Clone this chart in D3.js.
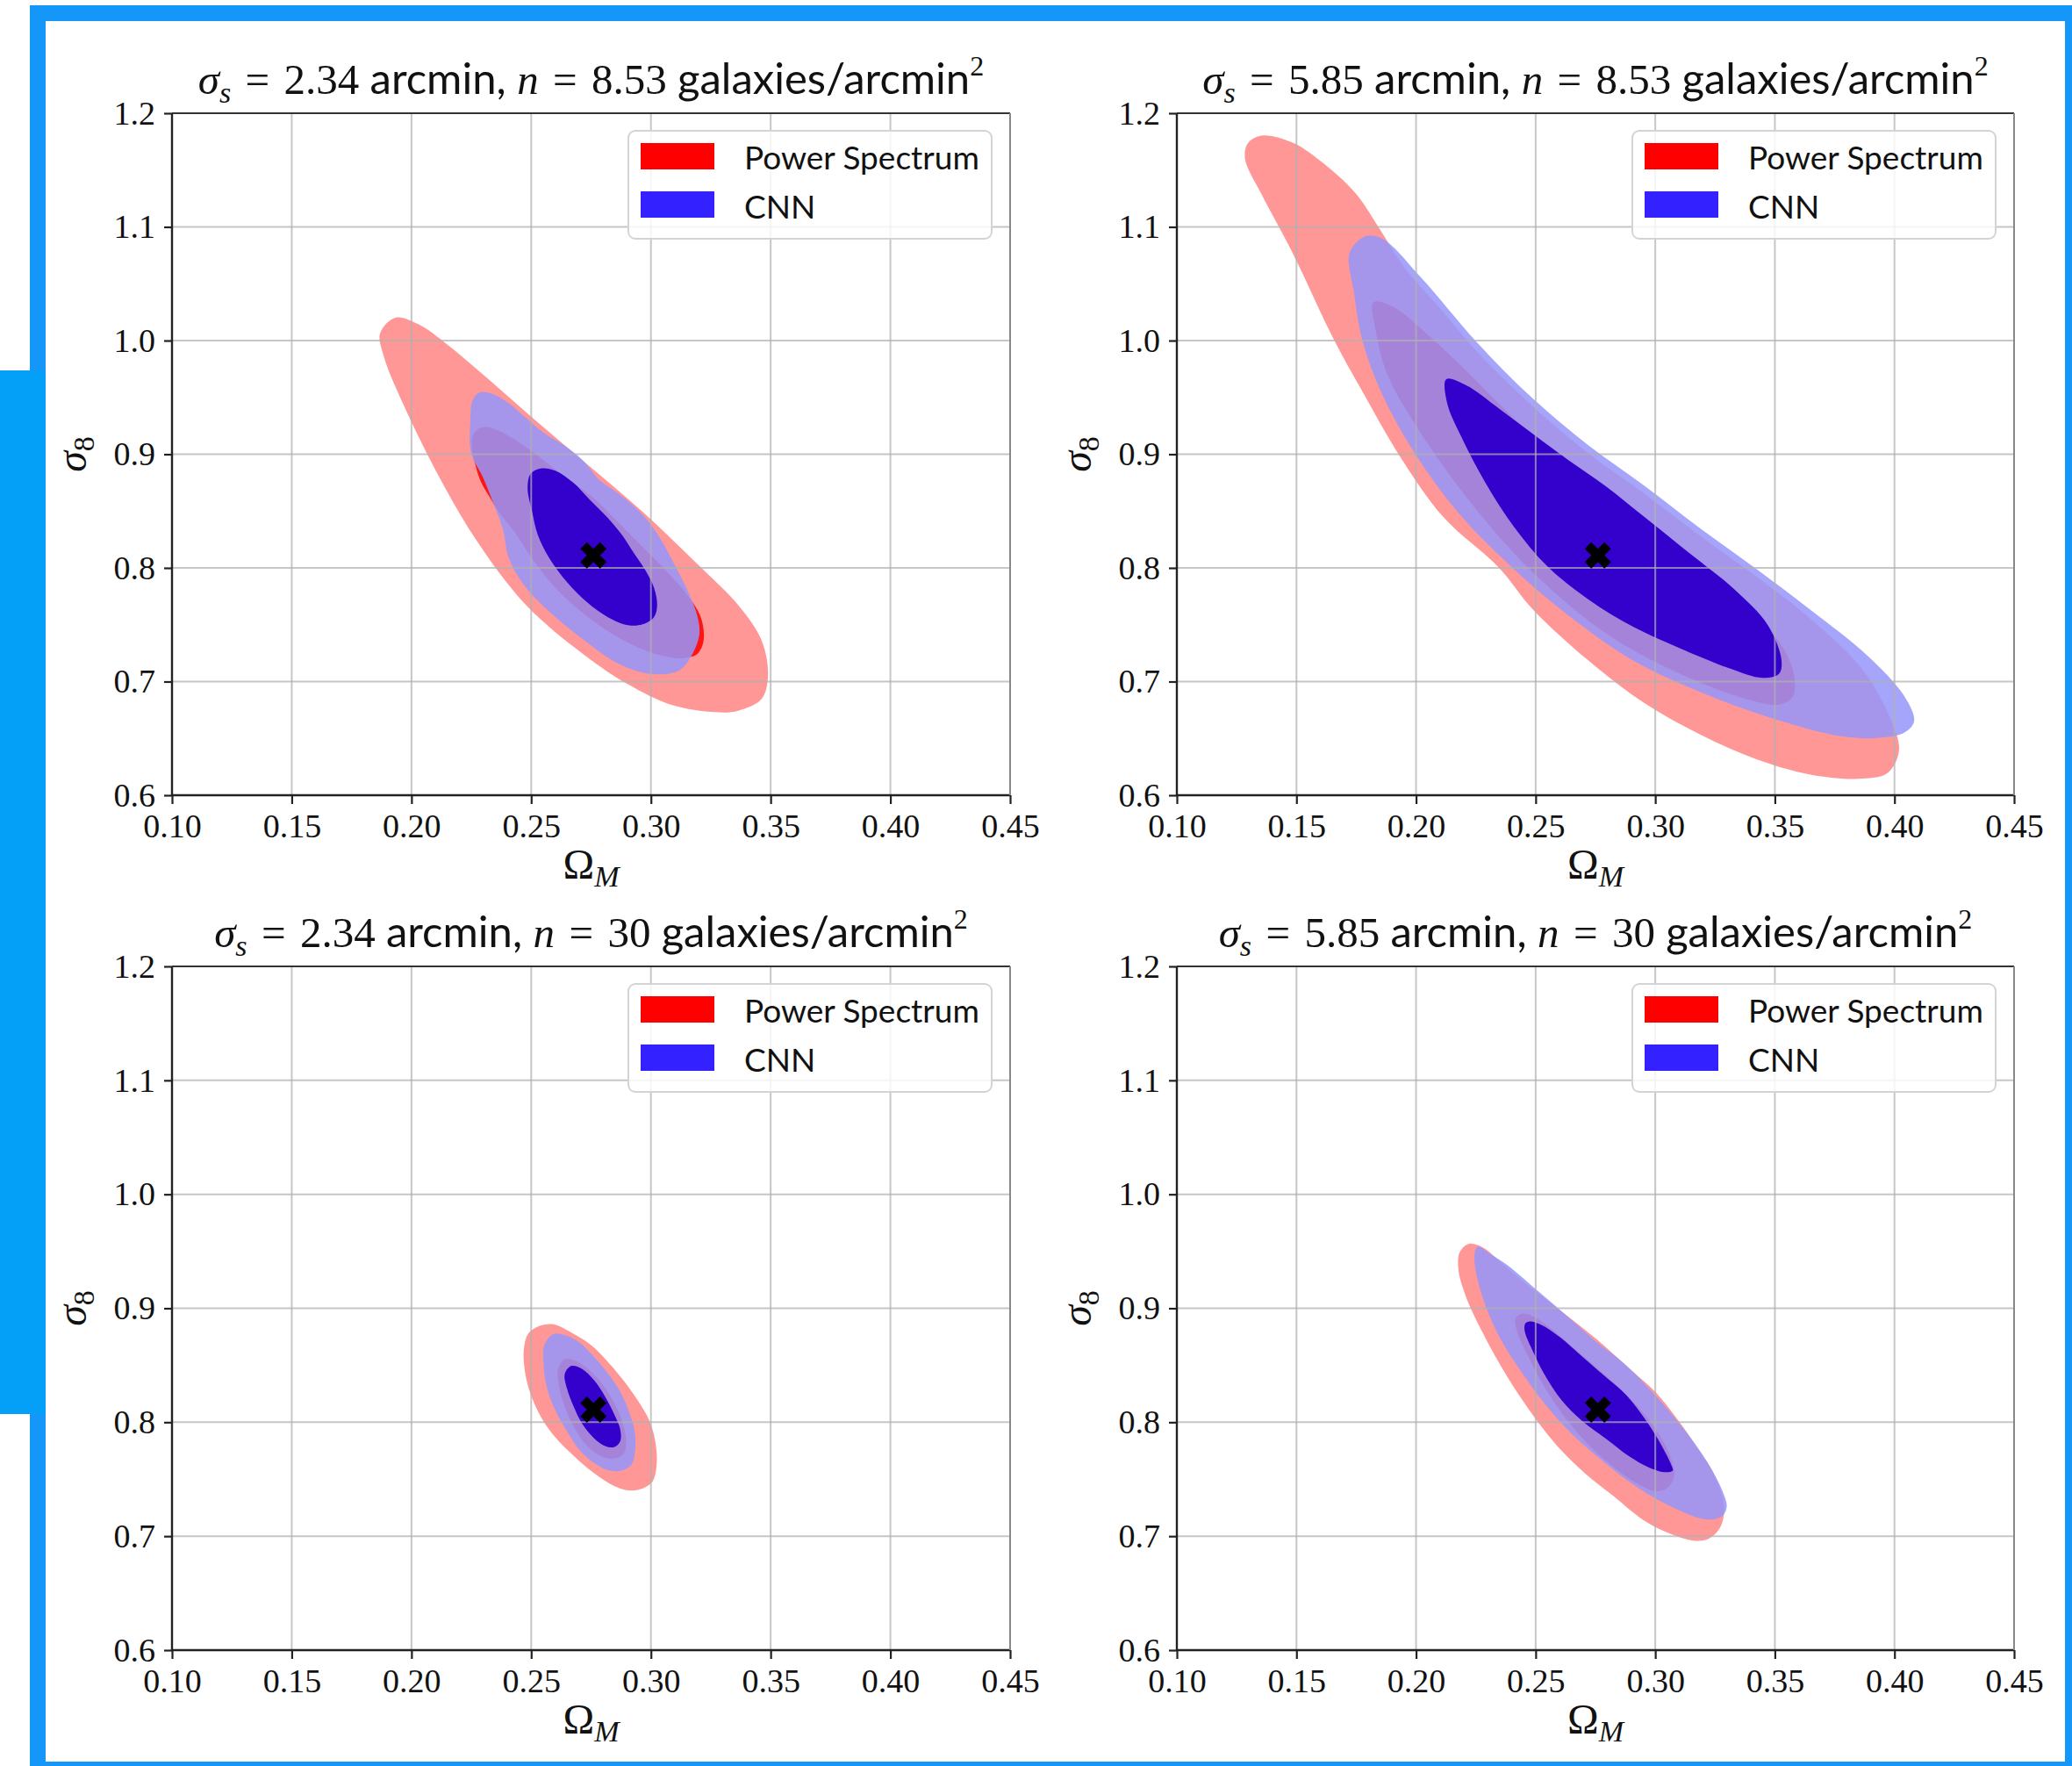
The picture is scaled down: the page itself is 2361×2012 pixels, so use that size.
<!DOCTYPE html>
<html>
<head>
<meta charset="utf-8">
<script src="https://cdn.jsdelivr.net/npm/d3@7"></script>
<style>
  html, body { margin: 0; padding: 0; background: #fff; }
  svg { display: block; }
</style>
</head>
<body>
<script>
// ---- axis ticks and panel text ----
const omegaTicks = [0.10, 0.15, 0.20, 0.25, 0.30, 0.35, 0.40, 0.45];
const sigmaTicks = [0.6, 0.7, 0.8, 0.9, 1.0, 1.1, 1.2];
const panelSmoothing = ["2.34", "5.85", "2.34", "5.85"];
const panelDensity = ["8.53", "8.53", "30", "30"];
const legendLabels = ["Power Spectrum", "CNN"];
const fiducial = [0.276, 0.811];

// ---- confidence contours, [Omega_M, sigma_8] boundary points ----
// panel A: sigma_s = 2.34, n = 8.53
const psOuterA = [[0.1933,1.0201],[0.2030,1.0142],[0.2152,0.9961],[0.2297,0.9704],[0.2479,0.9369],[0.2722,0.8932],[0.2965,0.8494],[0.3208,0.8005],[0.3365,0.7671],[0.3462,0.7362],[0.3489,0.7053],[0.3462,0.6847],[0.3365,0.6744],[0.3268,0.6731],[0.3086,0.6795],[0.2904,0.6976],[0.2722,0.7233],[0.2479,0.7671],[0.2273,0.8237],[0.2115,0.8803],[0.1970,0.9421],[0.1885,0.9858],[0.1869,1.0064]];
const psInnerA = [[0.2310,0.9241],[0.2382,0.9189],[0.2479,0.9061],[0.2577,0.8906],[0.2674,0.8752],[0.2771,0.8597],[0.2868,0.8391],[0.2965,0.8185],[0.3062,0.7979],[0.3147,0.7774],[0.3208,0.7568],[0.3220,0.7362],[0.3195,0.7246],[0.3135,0.7207],[0.3062,0.7220],[0.2965,0.7284],[0.2843,0.7413],[0.2722,0.7593],[0.2601,0.7825],[0.2504,0.8082],[0.2431,0.8314],[0.2364,0.8494],[0.2334,0.8597],[0.2291,0.8752],[0.2267,0.8906],[0.2252,0.9061],[0.2261,0.9189]];
const cnnOuterA = [[0.2285,0.9544],[0.2346,0.9524],[0.2407,0.9447],[0.2479,0.9318],[0.2552,0.9189],[0.2649,0.9061],[0.2722,0.8932],[0.2783,0.8777],[0.2868,0.8649],[0.2965,0.8469],[0.3038,0.8263],[0.3098,0.8031],[0.3159,0.7774],[0.3195,0.7568],[0.3202,0.7413],[0.3171,0.7233],[0.3123,0.7104],[0.3062,0.7066],[0.2965,0.7079],[0.2843,0.7182],[0.2722,0.7362],[0.2601,0.7568],[0.2479,0.7825],[0.2407,0.8082],[0.2382,0.8340],[0.2346,0.8546],[0.2297,0.8803],[0.2249,0.9009],[0.2246,0.9292],[0.2255,0.9472]];
const cnnInnerA = [[0.2540,0.8875],[0.2601,0.8855],[0.2674,0.8752],[0.2746,0.8597],[0.2819,0.8443],[0.2880,0.8288],[0.2928,0.8134],[0.2977,0.7979],[0.3013,0.7825],[0.3026,0.7671],[0.3013,0.7568],[0.2965,0.7503],[0.2904,0.7496],[0.2819,0.7568],[0.2734,0.7696],[0.2649,0.7877],[0.2577,0.8082],[0.2528,0.8288],[0.2504,0.8494],[0.2485,0.8700],[0.2498,0.8829]];

// panel B: sigma_s = 5.85, n = 8.53
const psOuterB = [[0.1355,1.1804],[0.1484,1.1741],[0.1624,1.1540],[0.1752,1.1284],[0.1846,1.0988],[0.1951,1.0645],[0.2091,1.0306],[0.2255,0.9904],[0.2488,0.9423],[0.2722,0.9005],[0.2956,0.8650],[0.3189,0.8279],[0.3423,0.7924],[0.3657,0.7538],[0.3867,0.7104],[0.3984,0.6670],[0.4019,0.6394],[0.3972,0.6197],[0.3867,0.6146],[0.3657,0.6178],[0.3423,0.6316],[0.3189,0.6532],[0.2956,0.6808],[0.2722,0.7183],[0.2488,0.7636],[0.2348,0.7999],[0.2115,0.8445],[0.1928,0.8997],[0.1787,0.9510],[0.1659,0.9998],[0.1484,1.0771],[0.1355,1.1284],[0.1285,1.1599],[0.1297,1.1737]];
const psInnerB = [[0.1822,1.0338],[0.1904,1.0298],[0.2044,1.0062],[0.2185,0.9786],[0.2372,0.9391],[0.2605,0.8918],[0.2839,0.8524],[0.3072,0.8169],[0.3306,0.7774],[0.3493,0.7420],[0.3575,0.7104],[0.3575,0.6868],[0.3516,0.6797],[0.3376,0.6850],[0.3189,0.6990],[0.2956,0.7220],[0.2769,0.7460],[0.2570,0.7800],[0.2400,0.8150],[0.2200,0.8650],[0.2000,0.9250],[0.1880,0.9700],[0.1830,1.0101]];
const cnnOuterB = [[0.1787,1.0917],[0.1858,1.0898],[0.2021,1.0554],[0.2255,0.9983],[0.2488,0.9490],[0.2722,0.9076],[0.2956,0.8721],[0.3189,0.8346],[0.3423,0.7991],[0.3657,0.7617],[0.3890,0.7222],[0.4042,0.6868],[0.4082,0.6651],[0.4042,0.6552],[0.3937,0.6505],[0.3773,0.6521],[0.3470,0.6690],[0.3189,0.6907],[0.2909,0.7183],[0.2652,0.7558],[0.2418,0.7972],[0.2185,0.8465],[0.1998,0.8997],[0.1858,0.9529],[0.1776,0.9998],[0.1741,1.0416],[0.1722,1.0771]];
const cnnInnerB = [[0.2126,0.9659],[0.2208,0.9608],[0.2348,0.9400],[0.2488,0.9180],[0.2629,0.8960],[0.2792,0.8721],[0.2956,0.8445],[0.3143,0.8129],[0.3329,0.7814],[0.3470,0.7498],[0.3528,0.7183],[0.3516,0.7065],[0.3446,0.7033],[0.3306,0.7120],[0.3096,0.7300],[0.2909,0.7480],[0.2722,0.7720],[0.2551,0.8010],[0.2410,0.8360],[0.2290,0.8750],[0.2190,0.9150],[0.2130,0.9450]];

// panel C: sigma_s = 2.34, n = 30
const psOuterC = [[0.2531,0.8842],[0.2592,0.8860],[0.2665,0.8791],[0.2750,0.8676],[0.2823,0.8523],[0.2884,0.8370],[0.2945,0.8191],[0.2994,0.8013],[0.3018,0.7834],[0.3024,0.7630],[0.3006,0.7477],[0.2957,0.7413],[0.2909,0.7401],[0.2848,0.7439],[0.2762,0.7554],[0.2677,0.7707],[0.2604,0.7860],[0.2543,0.8038],[0.2494,0.8268],[0.2472,0.8472],[0.2470,0.8651],[0.2488,0.8778]];
const psInnerC = [[0.2640,0.8554],[0.2689,0.8536],[0.2750,0.8446],[0.2811,0.8293],[0.2860,0.8115],[0.2890,0.7936],[0.2896,0.7783],[0.2878,0.7707],[0.2835,0.7681],[0.2787,0.7707],[0.2726,0.7809],[0.2677,0.7962],[0.2640,0.8140],[0.2616,0.8319],[0.2613,0.8472]];
const cnnOuterC = [[0.2592,0.8773],[0.2640,0.8765],[0.2701,0.8702],[0.2762,0.8574],[0.2823,0.8421],[0.2872,0.8268],[0.2909,0.8089],[0.2933,0.7911],[0.2933,0.7732],[0.2915,0.7617],[0.2872,0.7574],[0.2823,0.7579],[0.2762,0.7643],[0.2701,0.7758],[0.2652,0.7911],[0.2604,0.8089],[0.2567,0.8293],[0.2552,0.8497],[0.2555,0.8676]];
const cnnInnerC = [[0.2665,0.8492],[0.2713,0.8467],[0.2762,0.8370],[0.2811,0.8217],[0.2848,0.8064],[0.2872,0.7936],[0.2872,0.7834],[0.2848,0.7783],[0.2811,0.7788],[0.2762,0.7860],[0.2713,0.7987],[0.2677,0.8140],[0.2650,0.8293],[0.2640,0.8421]];

// panel D: sigma_s = 5.85, n = 30
const psOuterD = [[0.2220,0.9565],[0.2281,0.9532],[0.2354,0.9404],[0.2439,0.9251],[0.2524,0.9110],[0.2634,0.8931],[0.2756,0.8726],[0.2878,0.8496],[0.3000,0.8266],[0.3098,0.8010],[0.3183,0.7754],[0.3244,0.7550],[0.3281,0.7345],[0.3287,0.7192],[0.3268,0.7064],[0.3220,0.6974],[0.3159,0.6961],[0.3073,0.7012],[0.2951,0.7140],[0.2829,0.7345],[0.2707,0.7550],[0.2585,0.7805],[0.2463,0.8138],[0.2354,0.8496],[0.2268,0.8829],[0.2207,0.9110],[0.2177,0.9340],[0.2183,0.9494]];
const psInnerD = [[0.2439,0.8951],[0.2488,0.8931],[0.2561,0.8829],[0.2646,0.8675],[0.2732,0.8522],[0.2829,0.8343],[0.2927,0.8138],[0.3012,0.7908],[0.3067,0.7678],[0.3079,0.7524],[0.3049,0.7422],[0.3000,0.7396],[0.2927,0.7460],[0.2829,0.7601],[0.2732,0.7780],[0.2634,0.8010],[0.2549,0.8266],[0.2476,0.8547],[0.2421,0.8803],[0.2415,0.8905]];
const cnnOuterD = [[0.2256,0.9540],[0.2317,0.9468],[0.2390,0.9366],[0.2476,0.9212],[0.2561,0.9059],[0.2659,0.8880],[0.2756,0.8701],[0.2866,0.8522],[0.2976,0.8291],[0.3073,0.8061],[0.3159,0.7831],[0.3232,0.7601],[0.3281,0.7396],[0.3299,0.7268],[0.3287,0.7192],[0.3256,0.7153],[0.3195,0.7153],[0.3110,0.7217],[0.3000,0.7332],[0.2878,0.7499],[0.2756,0.7703],[0.2646,0.7908],[0.2537,0.8164],[0.2439,0.8445],[0.2354,0.8726],[0.2293,0.9008],[0.2256,0.9264],[0.2244,0.9443]];
const cnnInnerD = [[0.2476,0.8885],[0.2524,0.8854],[0.2598,0.8752],[0.2683,0.8598],[0.2781,0.8419],[0.2878,0.8240],[0.2963,0.8010],[0.3024,0.7805],[0.3067,0.7626],[0.3073,0.7575],[0.3037,0.7562],[0.2976,0.7601],[0.2890,0.7703],[0.2793,0.7857],[0.2695,0.8010],[0.2610,0.8189],[0.2537,0.8419],[0.2488,0.8624],[0.2454,0.8803],[0.2457,0.8867]];

const psOuter = [psOuterA, psOuterB, psOuterC, psOuterD];
const psInner = [psInnerA, psInnerB, psInnerC, psInnerD];
const cnnOuter = [cnnOuterA, cnnOuterB, cnnOuterC, cnnOuterD];
const cnnInner = [cnnInnerA, cnnInnerB, cnnInnerC, cnnInnerD];

// ---- page layout ----
const W = 2361, H = 2012;
const SERIF = "'Liberation Serif', 'DejaVu Serif', serif";
const SANS = "Lato, 'DejaVu Sans', sans-serif";
const EQ = "\u2004=\u2004";

const frames = [
  { left: 196,  right: 1151, top: 129,  bottom: 906 },
  { left: 1341, right: 2295, top: 129,  bottom: 906 },
  { left: 196,  right: 1151, top: 1101, bottom: 1880 },
  { left: 1341, right: 2295, top: 1101, bottom: 1880 }
];

const svg = d3.select("body").append("svg")
  .attr("width", W).attr("height", H)
  .attr("xmlns", "http://www.w3.org/2000/svg");

svg.append("rect").attr("width", W).attr("height", H).attr("fill", "#fff");

// blue page border and side tab
svg.append("rect")
  .attr("x", 43).attr("y", 15).attr("width", 2319).attr("height", 2001)
  .attr("fill", "none").attr("stroke", "#1597fa").attr("stroke-width", 18);
svg.append("rect")
  .attr("x", 0).attr("y", 422).attr("width", 52).attr("height", 1189)
  .attr("fill", "#049ff6");

const defs = svg.append("defs");

frames.forEach((f, i) => {
  const x = d3.scaleLinear().domain([0.10, 0.45]).range([f.left, f.right]);
  const y = d3.scaleLinear().domain([0.6, 1.2]).range([f.bottom, f.top]);
  const g = svg.append("g");

  defs.append("clipPath").attr("id", "clip" + i)
    .append("rect")
    .attr("x", f.left).attr("y", f.top)
    .attr("width", f.right - f.left).attr("height", f.bottom - f.top);

  const area = g.append("g").attr("clip-path", `url(#clip${i})`);
  const shape = d3.line()
    .x(d => x(d[0])).y(d => y(d[1]))
    .curve(d3.curveCatmullRomClosed.alpha(0.5));

  // power spectrum contours (95% then 68%)
  area.append("path").attr("d", shape(psOuter[i]))
    .attr("fill", "#ff9797");
  area.append("path").attr("d", shape(psInner[i]))
    .attr("fill", "#ff1414");
  // CNN contours drawn over them
  area.append("path").attr("d", shape(cnnOuter[i]))
    .attr("fill", "rgb(150,150,250)").attr("fill-opacity", 0.86);
  area.append("path").attr("d", shape(cnnInner[i]))
    .attr("fill", "#3300cc");

  // grid
  const grid = g.append("g").attr("stroke", "#b0b0b0").attr("stroke-opacity", 0.72)
    .attr("stroke-width", 2);
  grid.selectAll("line.gx").data(omegaTicks).join("line")
    .attr("x1", d => x(d)).attr("x2", d => x(d))
    .attr("y1", f.top).attr("y2", f.bottom);
  grid.selectAll("line.gy").data(sigmaTicks).join("line")
    .attr("x1", f.left).attr("x2", f.right)
    .attr("y1", d => y(d)).attr("y2", d => y(d));

  // fiducial cosmology marker
  g.append("path")
    .attr("d", d3.symbol(d3.symbolCross, 560)())
    .attr("transform", `translate(${x(fiducial[0])},${y(fiducial[1])}) rotate(45)`)
    .attr("fill", "#000");

  // frame
  g.append("line").attr("x1", f.left).attr("x2", f.right).attr("y1", f.top).attr("y2", f.top)
    .attr("stroke", "#333").attr("stroke-width", 2.2);
  g.append("line").attr("x1", f.left).attr("x2", f.right).attr("y1", f.bottom).attr("y2", f.bottom)
    .attr("stroke", "#222").attr("stroke-width", 2.4);
  g.append("line").attr("x1", f.left).attr("x2", f.left).attr("y1", f.top).attr("y2", f.bottom)
    .attr("stroke", "#222").attr("stroke-width", 2.4);
  g.append("line").attr("x1", f.right).attr("x2", f.right).attr("y1", f.top).attr("y2", f.bottom)
    .attr("stroke", "#888").attr("stroke-width", 2);

  // axes
  const ax = g.append("g").attr("transform", `translate(0,${f.bottom})`)
    .call(d3.axisBottom(x).tickValues(omegaTicks).tickFormat(d3.format(".2f"))
      .tickSize(10).tickPadding(11));
  const ay = g.append("g").attr("transform", `translate(${f.left},0)`)
    .call(d3.axisLeft(y).tickValues(sigmaTicks).tickFormat(d3.format(".1f"))
      .tickSize(9).tickPadding(10));
  [ax, ay].forEach(a => {
    a.select(".domain").remove();
    a.selectAll(".tick line").attr("stroke", "#222").attr("stroke-width", 2.2);
    a.selectAll(".tick text")
      .attr("font-family", SERIF).attr("font-size", 38).attr("fill", "#111");
  });

  // axis labels
  const cx = (f.left + f.right) / 2;
  const cy = (f.top + f.bottom) / 2;
  const xl = g.append("text").attr("x", cx).attr("y", f.bottom + 95)
    .attr("text-anchor", "middle").attr("font-family", SERIF).attr("fill", "#111");
  xl.append("tspan").attr("font-size", 48).text("Ω");
  xl.append("tspan").attr("font-size", 34).attr("font-style", "italic").attr("dy", 9).text("M");

  const ylx = f.left - 98;
  const yl = g.append("text").attr("transform", `translate(${ylx},${cy}) rotate(-90)`)
    .attr("text-anchor", "middle").attr("font-family", SERIF).attr("fill", "#111");
  yl.append("tspan").attr("font-size", 48).attr("font-style", "italic").text("σ");
  yl.append("tspan").attr("font-size", 34).attr("dy", 9).text("8");

  // title
  const tt = g.append("text").attr("x", cx).attr("y", f.top - 22)
    .attr("text-anchor", "middle").attr("fill", "#111").attr("font-size", 49);
  tt.append("tspan").attr("font-family", SERIF).attr("font-style", "italic").text("σ");
  tt.append("tspan").attr("font-family", SERIF).attr("font-style", "italic")
    .attr("font-size", 34).attr("dy", 10).text("s");
  tt.append("tspan").attr("font-family", SERIF).attr("dy", -10)
    .text(`${EQ}${panelSmoothing[i]} `);
  tt.append("tspan").attr("font-family", SANS).text("arcmin, ");
  tt.append("tspan").attr("font-family", SERIF).attr("font-style", "italic").text("n");
  tt.append("tspan").attr("font-family", SERIF).text(`${EQ}${panelDensity[i]} `);
  tt.append("tspan").attr("font-family", SANS).text("galaxies/arcmin");
  tt.append("tspan").attr("font-family", SERIF).attr("font-size", 32).attr("dy", -21).text("2");

  // legend
  const lw = 414, lh = 123;
  const lg = g.append("g").attr("transform", `translate(${f.right - 21 - lw},${f.top + 20})`);
  lg.append("rect").attr("width", lw).attr("height", lh).attr("rx", 8)
    .attr("fill", "#fff").attr("fill-opacity", 0.82)
    .attr("stroke", "#d4d4d4").attr("stroke-width", 2);
  const swatch = ["#ff0000", "#3322ff"];
  legendLabels.forEach((lab, k) => {
    lg.append("rect").attr("x", 14).attr("y", 14 + k * 55).attr("width", 84).attr("height", 30)
      .attr("fill", swatch[k]);
    lg.append("text").attr("x", 132).attr("y", 44 + k * 56)
      .attr("font-family", SANS).attr("font-size", 37).attr("fill", "#111").text(lab);
  });
});
</script>
</body>
</html>
